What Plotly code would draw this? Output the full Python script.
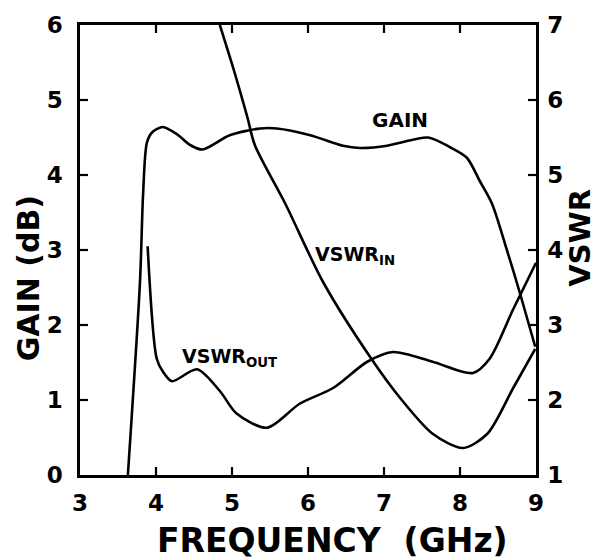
import plotly.graph_objects as go

# ---- data ----
freq_gain = [3.63, 3.79, 3.83, 3.88, 3.95, 4.09, 4.28, 4.45, 4.61, 4.97, 5.37, 5.59,
             6.03, 6.46, 6.68, 7.04, 7.21, 7.58, 7.87, 8.09, 8.26, 8.42, 8.62, 8.79, 8.99]
gain_db = [0.0, 2.59, 3.74, 4.43, 4.57, 4.64, 4.54, 4.40, 4.34, 4.53, 4.62, 4.62,
           4.53, 4.39, 4.36, 4.39, 4.43, 4.50, 4.37, 4.23, 3.92, 3.62, 2.99, 2.42, 1.71]

freq_vswr_in = [4.84, 5.03, 5.20, 5.30, 5.70, 6.20, 6.84, 7.21, 7.64, 8.04, 8.36, 8.70, 8.99]
vswr_in = [7.00, 6.38, 5.78, 5.40, 4.62, 3.57, 2.54, 2.03, 1.55, 1.36, 1.55, 2.16, 2.68]

freq_vswr_out = [3.89, 4.01, 4.09, 4.21, 4.54, 4.84, 5.06, 5.46, 5.89, 6.33, 6.78,
                 7.12, 7.64, 8.17, 8.39, 8.70, 9.00]
vswr_out = [4.05, 2.55, 2.38, 2.25, 2.41, 2.12, 1.82, 1.63, 1.95, 2.16, 2.51,
            2.64, 2.51, 2.36, 2.55, 3.21, 3.83]

x_ticks = [3, 4, 5, 6, 7, 8, 9]
gain_ticks = [0, 1, 2, 3, 4, 5, 6]
vswr_ticks = [1, 2, 3, 4, 5, 6, 7]

FONT = "DejaVu Sans"
BLACK = "#000000"
TICK_LEN = 8

fig = go.Figure()
line_style = dict(color=BLACK, width=2.6, shape="spline", smoothing=0.8)
fig.add_trace(go.Scatter(x=freq_gain, y=gain_db, mode="lines", line=line_style,
                         name="GAIN", yaxis="y"))
fig.add_trace(go.Scatter(x=freq_vswr_in, y=vswr_in, mode="lines", line=line_style,
                         name="VSWR IN", yaxis="y2"))
fig.add_trace(go.Scatter(x=freq_vswr_out, y=vswr_out, mode="lines", line=line_style,
                         name="VSWR OUT", yaxis="y2"))

axis_common = dict(showgrid=False, zeroline=False, showline=True, linecolor=BLACK,
                   linewidth=2.5, ticks="",
                   tickfont=dict(family=FONT, size=23, color=BLACK, weight="bold"))

fig.update_layout(
    width=601, height=559,
    margin=dict(l=80, r=65, t=20, b=84),
    paper_bgcolor="white", plot_bgcolor="white",
    showlegend=False,
    font=dict(family=FONT, color=BLACK, weight="bold"),
    xaxis=dict(range=[3, 9], tickvals=x_ticks, mirror=True,
               ticklabelstandoff=6, **axis_common),
    yaxis=dict(range=[0, 6], tickvals=gain_ticks, ticklabelstandoff=10,
               **axis_common),
    yaxis2=dict(range=[1, 7], tickvals=vswr_ticks, overlaying="y", side="right",
                ticklabelstandoff=4, **axis_common),
)

# inside tick marks, placed through the axes (pixel-length lines anchored on data values)
tick_line = dict(color=BLACK, width=2.2)
shapes = []
for v in x_ticks[1:-1]:
    shapes.append(dict(type="line", xref="x", yref="paper", ysizemode="pixel",
                       yanchor=0, x0=v, x1=v, y0=0, y1=TICK_LEN, line=tick_line))
    shapes.append(dict(type="line", xref="x", yref="paper", ysizemode="pixel",
                       yanchor=1, x0=v, x1=v, y0=0, y1=-TICK_LEN, line=tick_line))
for v in gain_ticks[1:-1]:
    shapes.append(dict(type="line", xref="paper", yref="y", xsizemode="pixel",
                       xanchor=0, x0=0, x1=TICK_LEN, y0=v, y1=v, line=tick_line))
for v in vswr_ticks[1:-1]:
    shapes.append(dict(type="line", xref="paper", yref="y2", xsizemode="pixel",
                       xanchor=1, x0=0, x1=-TICK_LEN, y0=v, y1=v, line=tick_line))

annots = [
    dict(text="FREQUENCY  (GHz)", xref="paper", yref="paper", x=0.553, y=0,
         yshift=-65, xanchor="center", yanchor="middle",
         font=dict(family=FONT, size=33, color=BLACK, weight="bold"), showarrow=False),
    dict(text="GAIN (dB)", xref="paper", yref="paper", x=-0.114, y=0.437,
         textangle=-90, xanchor="center", yanchor="middle",
         font=dict(family=FONT, size=30, color=BLACK, weight="bold"), showarrow=False),
    dict(text="VSWR", xref="paper", yref="paper", x=1.096, y=0.527,
         textangle=-90, xanchor="center", yanchor="middle",
         font=dict(family=FONT, size=29, color=BLACK, weight="bold"), showarrow=False),
    dict(text="GAIN", xref="x", yref="y", x=7.21, y=4.74,
         xanchor="center", yanchor="middle",
         font=dict(family=FONT, size=20, color=BLACK, weight="bold"), showarrow=False),
    dict(text="VSWR<sub>IN</sub>", xref="x", yref="y", x=6.07, y=2.93,
         xanchor="left", yanchor="middle",
         font=dict(family=FONT, size=19, color=BLACK, weight="bold"), showarrow=False),
    dict(text="VSWR<sub>OUT</sub>", xref="x", yref="y", x=4.32, y=1.57,
         xanchor="left", yanchor="middle",
         font=dict(family=FONT, size=19, color=BLACK, weight="bold"), showarrow=False),
]
fig.update_layout(annotations=annots, shapes=shapes)

fig.write_html("out.html")
